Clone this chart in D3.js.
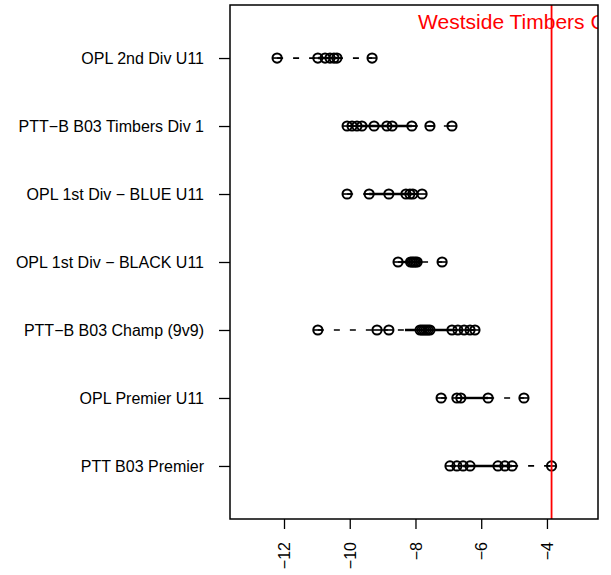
<!DOCTYPE html>
<html>
<head>
<meta charset="utf-8">
<script src="https://cdn.jsdelivr.net/npm/d3@7"></script>
<style>
  body { margin: 0; background: #fff; }
  text { font-family: "Liberation Sans", Arial, sans-serif; }
</style>
</head>
<body>
<div id="chart"></div>
<script>
// Teams, top to bottom
let teams = ["OPL 2nd Div U11", "PTT\u2212B B03 Timbers Div 1", "OPL 1st Div \u2212 BLUE U11",
             "OPL 1st Div \u2212 BLACK U11", "PTT\u2212B B03 Champ (9v9)", "OPL Premier U11", "PTT B03 Premier"];

// Ratings for each team
let opl2ndDiv = [-12.21, -10.97, -10.75, -10.60, -10.48, -10.39, -9.32];
let pttTimbersDiv1 = [-10.08, -9.93, -9.78, -9.63, -9.26, -8.87, -8.71, -8.11, -7.56, -6.89];
let opl1stBlue = [-10.08, -9.41, -8.81, -8.29, -8.17, -8.08, -7.80];
let opl1stBlack = [-8.53, -8.15, -8.10, -8.05, -8.00, -7.95, -7.19];
let pttChamp = [-10.97, -9.17, -8.81, -7.86, -7.80, -7.74, -7.68, -7.62, -7.56, -6.89, -6.71, -6.52, -6.34, -6.19];
let oplPremier = [-7.22, -6.74, -6.62, -5.79, -4.70];
let pttPremier = [-6.95, -6.74, -6.55, -6.34, -5.49, -5.28, -5.06, -3.86];
let ratings = [opl2ndDiv, pttTimbersDiv1, opl1stBlue, opl1stBlack, pttChamp, oplPremier, pttPremier];

// Middle band (solid part) of each team
let bandLo = [-10.97, -9.70, -9.41, -8.45, -8.32, -6.65, -6.55];
let bandHi = [-10.39, -8.11, -8.08, -7.80, -6.89, -5.79, -5.06];

// Highlighted team
let highlightValue = -3.86;
let highlightLabel = "Westside Timbers Copa";
let highlightLabelAt = -7.92;

let xTicks = [-12, -10, -8, -6, -4];

let width = 611;
let height = 575;
let margin = { top: 5, right: 13, bottom: 56, left: 230 };
let plotW = width - margin.left - margin.right;
let plotH = height - margin.top - margin.bottom;

const svg = d3.select("#chart")
    .append("svg")
    .attr("width", width)
    .attr("height", height);

svg.append("defs").append("clipPath")
    .attr("id", "plotClip")
    .append("rect")
    .attr("width", plotW)
    .attr("height", plotH);

const g = svg.append("g")
    .attr("transform", "translate(" + margin.left + "," + margin.top + ")");

let x = d3.scaleLinear().domain([-13.643, -2.447]).range([0, plotW]);
// row 1 at the top, row 7 at the bottom
let y = d3.scaleLinear().domain([0.22, 7.78]).range([0, plotH]);

// Bottom axis, labels turned up
let xAxis = g.append("g")
    .attr("transform", "translate(0," + plotH + ")")
    .call(d3.axisBottom(x).tickValues(xTicks).tickSize(10).tickFormat(d => d3.format("d")(d).replace("-", "\u2212")));
xAxis.select(".domain").remove();
xAxis.selectAll("line").attr("stroke", "#000").attr("stroke-width", 1.3);
xAxis.selectAll("text")
    .attr("transform", "rotate(-90)")
    .attr("x", -23)
    .attr("y", 0)
    .attr("dy", "0.35em")
    .attr("text-anchor", "end")
    .attr("font-size", 16)
    .attr("fill", "#000");

// Left axis with the team names
let yAxis = g.append("g")
    .call(d3.axisLeft(y).tickValues(d3.range(1, teams.length + 1)).tickSize(11).tickPadding(15)
        .tickFormat(d => teams[d - 1]));
yAxis.select(".domain").remove();
yAxis.selectAll("line").attr("stroke", "#000").attr("stroke-width", 1.3);
yAxis.selectAll("text").attr("font-size", 16).attr("fill", "#000");

const plot = g.append("g").attr("clip-path", "url(#plotClip)");

let rows = plot.selectAll(".row")
    .data(ratings)
    .enter().append("g")
    .attr("class", "row")
    .attr("transform", (d, i) => "translate(0," + y(i + 1) + ")");

// dashed whiskers, drawn left to right
rows.append("line")
    .attr("x1", d => x(d3.min(d)))
    .attr("x2", (d, i) => x(bandLo[i]))
    .attr("stroke", "#000").attr("stroke-width", 1.7).attr("stroke-dasharray", "6,10");
rows.append("line")
    .attr("x1", (d, i) => x(bandHi[i]))
    .attr("x2", d => x(d3.max(d)))
    .attr("stroke", "#000").attr("stroke-width", 1.7).attr("stroke-dasharray", "6,10");

// solid middle part
rows.append("line")
    .attr("x1", (d, i) => x(bandLo[i]))
    .attr("x2", (d, i) => x(bandHi[i]))
    .attr("stroke", "#000").attr("stroke-width", 2.4);

// points
let r = 4.6;
let pts = rows.selectAll(".pt")
    .data(d => d)
    .enter().append("g")
    .attr("class", "pt")
    .attr("transform", d => "translate(" + x(d) + ",0)");
pts.append("circle")
    .attr("r", r)
    .attr("fill", "none")
    .attr("stroke", "#000")
    .attr("stroke-width", 2);
pts.append("line")
    .attr("x1", -r).attr("x2", r)
    .attr("stroke", "#000").attr("stroke-width", 1.6);

// highlighted team line and label
plot.append("line")
    .attr("x1", x(highlightValue)).attr("x2", x(highlightValue))
    .attr("y1", 0).attr("y2", plotH)
    .attr("stroke", "#ff0000").attr("stroke-width", 1.8);
plot.append("text")
    .attr("x", x(highlightLabelAt))
    .attr("y", 24)
    .attr("fill", "#ff0000")
    .attr("font-size", 21)
    .text(highlightLabel);

// box round the plot
g.append("rect")
    .attr("width", plotW)
    .attr("height", plotH)
    .attr("fill", "none")
    .attr("stroke", "#000")
    .attr("stroke-width", 1.5);
</script>
</body>
</html>
